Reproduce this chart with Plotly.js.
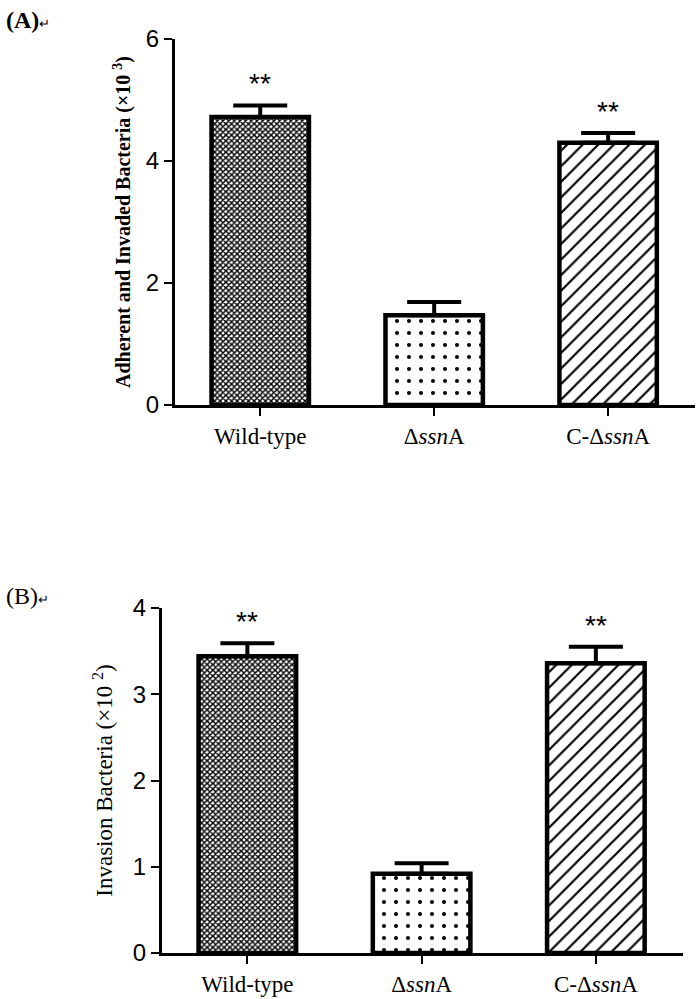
<!DOCTYPE html>
<html>
<head>
<meta charset="utf-8">
<script src="https://cdn.plot.ly/plotly-3.0.1.min.js"></script>
<style>html,body{margin:0;padding:0;background:#fff}#chart{width:700px;height:999px}</style>
</head>
<body>
<div id="chart"></div>
<script>
const categories = ["Wild-type", "ΔssnA", "C-ΔssnA"];
const tickLabels = ["Wild-type", "Δ<i>ssn</i>A", "C-Δ<i>ssn</i>A"];
const valuesA = [4.72, 1.47, 4.30];
const errorsA = [0.19, 0.22, 0.16];
const valuesB = [3.44, 0.92, 3.36];
const errorsB = [0.15, 0.12, 0.19];
const starsA = ["**", "", "**"];
const starsB = ["**", "", "**"];
const patterns = ["x", ".", "/"];
const patternSizes = [4, 12, 11];
const patternSolidity = [0.6, 0.09, 0.2];

const xs = [0, 1, 2];

function barTrace(vals, errs, xa, ya) {
  return {
    type: "bar", x: xs, y: vals, xaxis: xa, yaxis: ya, width: 0.56,
    marker: {
      color: "#ffffff",
      line: {color: "#000", width: 4.5},
      pattern: {shape: patterns, size: patternSizes, solidity: patternSolidity, fgcolor: "#000", bgcolor: "#fff", fgopacity: 1, fillmode: "overlay"}
    },
    error_y: {type: "data", symmetric: false, array: errs, arrayminus: errs.map(() => 0), color: "#000", thickness: 4, width: 27},
    hoverinfo: "skip", showlegend: false
  };
}

const axisCommon = {
  showgrid: false, zeroline: false, showline: true, linecolor: "#000", linewidth: 3,
  ticks: "outside", ticklen: 8, tickwidth: 2, tickcolor: "#000"
};

const xCommon = Object.assign({}, axisCommon, {
  tickmode: "array", tickvals: xs, ticktext: tickLabels, range: [-0.49, 2.5],
  tickfont: {family: "Liberation Serif", size: 23, color: "#000"}
});
const yFont = {family: "Liberation Sans", size: 24, color: "#000"};

const annotations = [];
function addStars(stars, vals, errs, xa, ya) {
  stars.forEach((s, i) => {
    if (!s) return;
    annotations.push({x: xs[i], y: vals[i] + errs[i], xref: xa, yref: ya, text: s, showarrow: false,
      yanchor: "bottom", yshift: 4, font: {family: "Liberation Sans", size: 28, color: "#000"}});
  });
}
addStars(starsA, valuesA, errorsA, "x", "y");
addStars(starsB, valuesB, errorsB, "x2", "y2");
annotations.push({x: 0.005, y: 1 - 20 / 999, xref: "paper", yref: "paper", xanchor: "left", yanchor: "middle", showarrow: false,
  text: "<b>(A)</b><span style='font-size:13px'>↵</span>", font: {family: "Liberation Serif", size: 24, color: "#000"}});
annotations.push({x: 0.005, y: 1 - 596 / 999, xref: "paper", yref: "paper", xanchor: "left", yanchor: "middle", showarrow: false,
  text: "(B)<span style='font-size:13px'>↵</span>", font: {family: "Liberation Serif", size: 24, color: "#000"}});

const layout = {
  width: 700, height: 999, margin: {l: 0, r: 0, t: 0, b: 0},
  paper_bgcolor: "#fff", plot_bgcolor: "#fff",
  xaxis: Object.assign({}, xCommon, {domain: [0.25, 0.993], anchor: "y"}),
  yaxis: Object.assign({}, axisCommon, {domain: [0.5946, 0.961], range: [0, 6], tickvals: [0, 2, 4, 6], anchor: "x",
    tickfont: yFont,
    title: {text: "<b>Adherent and Invaded Bacteria (×10 <sup>3</sup>)</b>", font: {family: "Liberation Serif", size: 20, color: "#000"}, standoff: 10}}),
  xaxis2: Object.assign({}, xCommon, {domain: [0.2314, 0.9757], anchor: "y2"}),
  yaxis2: Object.assign({}, axisCommon, {domain: [0.046, 0.3914], range: [0, 4], tickvals: [0, 1, 2, 3, 4], anchor: "x2",
    tickfont: yFont,
    title: {text: "Invasion Bacteria (×10 <sup>2</sup>)", font: {family: "Liberation Serif", size: 23, color: "#000"}, standoff: 14}}),
  annotations: annotations,
  bargap: 0.44
};

Plotly.newPlot("chart", [barTrace(valuesA, errorsA, "x", "y"), barTrace(valuesB, errorsB, "x2", "y2")], layout, {staticPlot: true});
</script>
</body>
</html>
